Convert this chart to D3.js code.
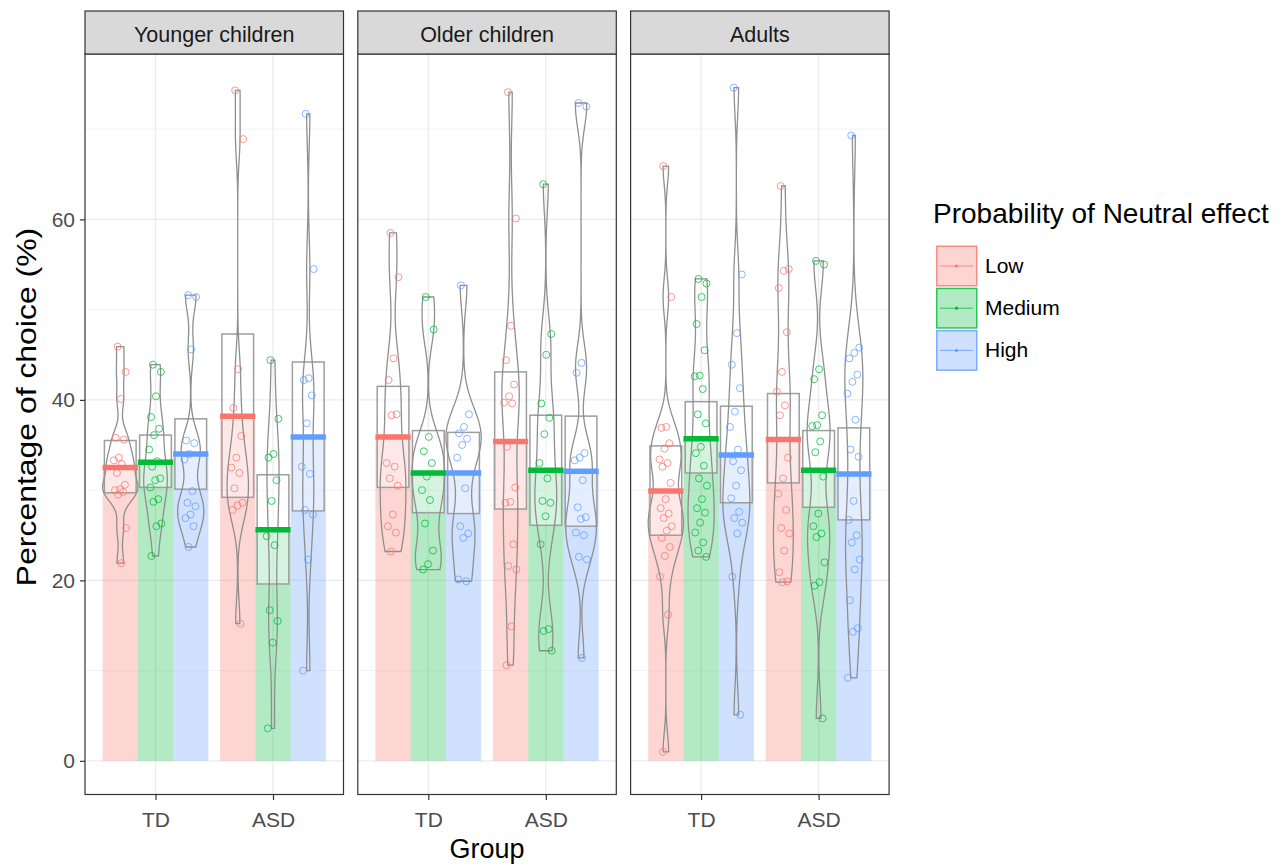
<!DOCTYPE html>
<html>
<head>
<meta charset="utf-8">
<script src="https://cdn.jsdelivr.net/npm/d3@7"></script>
<style>
  body { margin: 0; background: #fff; }
  text { font-family: "Liberation Sans", Arial, sans-serif; }
</style>
</head>
<body>
<div id="chart"></div>
<script>
// data
const panels = ["Younger children", "Older children", "Adults"];
const groups = ["TD", "ASD"];
const levels = ["Low", "Medium", "High"];
const colors = ["#F8766D", "#00BA38", "#619CFF"];
const yTicks = [0, 20, 40, 60];

// per panel, order: TD Low, TD Medium, TD High, ASD Low, ASD Medium, ASD High
const meanYounger = [32.5, 33.1, 34.0, 38.2, 25.6, 35.9];
const ciLowYounger = [29.7, 30.3, 30.1, 29.2, 19.6, 27.7];
const ciHighYounger = [35.5, 36.1, 37.9, 47.3, 31.7, 44.2];
const pointsYounger = [
  [45.9, 43.1, 40.1, 35.8, 35.6, 33.6, 33.3, 32.9, 31.9, 30.6, 30.1, 30.0, 29.8, 29.5, 25.8, 21.9],
  [43.9, 43.1, 40.4, 38.1, 36.8, 36.1, 34.5, 33.2, 32.6, 31.3, 31.1, 30.3, 29.0, 28.7, 26.3, 26.0, 22.7],
  [51.6, 51.4, 45.6, 35.5, 35.2, 34.0, 33.4, 29.9, 28.6, 28.2, 27.3, 26.9, 26.0, 23.7],
  [74.3, 68.9, 43.4, 39.1, 36.0, 33.6, 32.5, 31.9, 30.2, 28.6, 28.3, 27.8, 15.2],
  [44.4, 37.9, 34.0, 33.6, 31.1, 28.8, 24.9, 23.9, 16.7, 15.5, 13.1, 3.6],
  [71.7, 54.5, 42.4, 42.2, 40.5, 37.4, 32.6, 31.8, 27.8, 27.3, 22.3, 10.0]
];

const meanOlder = [35.9, 31.9, 31.9, 35.4, 32.2, 32.1];
const ciLowOlder = [30.3, 27.5, 27.4, 27.9, 26.1, 26.0];
const ciHighOlder = [41.5, 36.6, 36.4, 43.1, 38.3, 38.2];
const pointsOlder = [
  [58.5, 53.6, 44.6, 42.2, 38.4, 38.3, 33.0, 32.6, 31.3, 30.5, 27.3, 26.0, 25.3, 23.2],
  [51.4, 47.8, 35.9, 34.3, 33.0, 31.5, 30.0, 28.9, 26.3, 23.3, 21.8, 21.2],
  [52.7, 38.4, 37.0, 36.3, 35.7, 35.0, 33.6, 30.2, 26.0, 25.2, 24.7, 20.1, 19.9],
  [74.1, 60.1, 48.2, 44.4, 41.7, 40.4, 39.7, 39.6, 34.8, 30.3, 28.7, 28.6, 24.0, 21.6, 21.2, 14.9, 10.6],
  [63.9, 47.3, 45.0, 39.6, 38.0, 36.2, 33.0, 31.3, 28.8, 28.6, 27.1, 24.0, 14.6, 14.4, 12.2],
  [72.9, 72.5, 44.1, 43.0, 34.1, 33.6, 33.3, 31.1, 28.1, 27.0, 26.8, 25.3, 25.0, 22.6, 22.3, 11.4]
];

const meanAdults = [29.9, 35.7, 33.9, 35.6, 32.2, 31.8];
const ciLowAdults = [25.0, 31.9, 28.6, 30.8, 28.1, 26.7];
const ciHighAdults = [34.9, 39.8, 39.3, 40.7, 36.6, 36.9];
const pointsAdults = [
  [65.9, 51.4, 37.0, 36.9, 35.2, 34.6, 33.4, 33.0, 32.6, 30.8, 29.0, 28.0, 27.4, 26.9, 26.0, 25.5, 24.7, 23.7, 22.7, 20.4, 16.2, 1.0],
  [53.4, 52.9, 51.4, 48.4, 45.5, 42.7, 42.6, 41.2, 38.4, 37.4, 34.8, 34.1, 32.7, 31.3, 30.5, 29.0, 28.0, 27.5, 26.4, 25.3, 24.2, 23.3, 22.6],
  [74.6, 53.9, 47.4, 43.9, 41.3, 38.7, 37.0, 34.5, 33.2, 32.2, 30.5, 29.1, 27.6, 26.9, 26.4, 25.2, 20.4, 5.1],
  [63.7, 54.5, 54.3, 52.4, 47.5, 43.1, 40.9, 39.4, 38.3, 33.6, 31.3, 29.6, 27.8, 25.8, 25.2, 23.3, 20.9, 19.9, 19.8],
  [55.4, 55.0, 43.4, 42.3, 38.3, 37.2, 37.1, 35.4, 34.2, 31.5, 27.4, 26.0, 25.2, 24.8, 22.0, 19.8, 19.4, 4.7],
  [69.3, 45.8, 45.2, 44.6, 42.8, 42.0, 40.7, 37.8, 34.5, 33.7, 28.8, 26.7, 25.0, 24.2, 22.3, 21.2, 17.8, 14.7, 14.3, 9.2]
];

const panelData = [
  { mean: meanYounger, lo: ciLowYounger, hi: ciHighYounger, pts: pointsYounger },
  { mean: meanOlder, lo: ciLowOlder, hi: ciHighOlder, pts: pointsOlder },
  { mean: meanAdults, lo: ciLowAdults, hi: ciHighAdults, pts: pointsAdults }
];

// set up
const width = 1287, height = 868;
const panelTop = 54, panelBottom = 794.5;
const stripTop = 11;
const panelW = 258.5, panelGap = 14.3, firstLeft = 85;
const grey20 = '#333333';
const bwAdjust = 0.6; // narrower kernel gives the jagged violins

const svg = d3.select('#chart').append('svg')
  .attr('width', width)
  .attr('height', height);

// y scale shared by the panels, with ggplot-like 5% expansion
const maxV = d3.max(panelData, p => d3.max(p.pts, a => d3.max(a)));
const y = d3.scaleLinear()
  .domain([0 - 0.05 * maxV, maxV * 1.05])
  .range([panelBottom, panelTop]);

const x = d3.scalePoint().domain(groups).range([0, panelW]).padding(0.6);
const step = x.step();
const dodge = d3.scaleBand().domain(levels).range([-0.45 * step, 0.45 * step]);
const bw = dodge.bandwidth();
const color = d3.scaleOrdinal().domain(levels).range(colors);

// kernel density, bandwidth as R's bw.nrd0 (times bwAdjust)
function kde(values) {
  const v = values.slice().sort(d3.ascending);
  const n = v.length;
  const sd = d3.deviation(v);
  const iqr = (d3.quantile(v, 0.75) - d3.quantile(v, 0.25)) / 1.34;
  const lo = Math.min(sd, iqr) || sd || 1;
  const h = bwAdjust * 0.9 * lo * Math.pow(n, -0.2);
  const ext = d3.extent(v);
  const out = [];
  for (let k = 0; k < 512; k++) {
    const t = ext[0] + (ext[1] - ext[0]) * k / 511;
    let s = 0;
    for (const xi of v) {
      const z = (t - xi) / h;
      s += Math.exp(-0.5 * z * z);
    }
    out.push({ v: t, d: s / (n * h * Math.sqrt(2 * Math.PI)) });
  }
  return out;
}

panels.forEach((name, pi) => {
  const left = firstLeft + pi * (panelW + panelGap);
  const g = svg.append('g').attr('transform', `translate(${left},0)`);
  const pd = panelData[pi];

  // grid
  g.selectAll('.minor').data([10, 30, 50, 70]).join('line')
    .attr('x1', 0).attr('x2', panelW)
    .attr('y1', d => y(d)).attr('y2', d => y(d))
    .attr('stroke', '#ebebeb').attr('stroke-width', 0.7);
  g.selectAll('.major').data(yTicks).join('line')
    .attr('x1', 0).attr('x2', panelW)
    .attr('y1', d => y(d)).attr('y2', d => y(d))
    .attr('stroke', '#ebebeb').attr('stroke-width', 1.3);
  g.selectAll('.vmajor').data(groups).join('line')
    .attr('x1', d => x(d)).attr('x2', d => x(d))
    .attr('y1', panelTop).attr('y2', panelBottom)
    .attr('stroke', '#ebebeb').attr('stroke-width', 1.3);

  // rows for this panel
  const rows = [];
  groups.forEach((gr, gi) => levels.forEach((lv, li) => {
    const k = gi * 3 + li;
    rows.push({ group: gr, level: lv, mean: pd.mean[k], lo: pd.lo[k], hi: pd.hi[k],
      pts: pd.pts[k], cx: x(gr) + dodge(lv) + bw / 2, dens: kde(pd.pts[k]) });
  }));
  const maxDens = d3.max(rows, r => d3.max(r.dens, d => d.d));

  // bars
  g.selectAll('.bar').data(rows).join('rect')
    .attr('x', d => d.cx - bw / 2)
    .attr('width', bw)
    .attr('y', d => y(d.mean))
    .attr('height', d => y(0) - y(d.mean))
    .attr('fill', d => color(d.level))
    .attr('fill-opacity', 0.3);

  // confidence boxes
  g.selectAll('.ci').data(rows).join('rect')
    .attr('x', d => d.cx - bw * 0.45)
    .attr('width', bw * 0.9)
    .attr('y', d => y(d.hi))
    .attr('height', d => y(d.lo) - y(d.hi))
    .attr('fill', 'white').attr('fill-opacity', 0.45)
    .attr('stroke', '#9e9e9e').attr('stroke-width', 1.5);

  // violins
  g.selectAll('.violin').data(rows).join('path')
    .attr('d', r => d3.area()
      .y(d => y(d.v))
      .x0(d => r.cx - d.d / maxDens * bw / 2)
      .x1(d => r.cx + d.d / maxDens * bw / 2)(r.dens))
    .attr('fill', 'none')
    .attr('stroke', '#8f8f8f')
    .attr('stroke-width', 1.3);

  // points, spread sideways a little
  rows.forEach(r => {
    g.append('g').selectAll('circle').data(r.pts).join('circle')
      .attr('cx', (d, i) => r.cx + (((i * 0.6180339 + 0.3) % 1) - 0.5) * 0.11 * step)
      .attr('cy', d => y(d))
      .attr('r', 3.5)
      .attr('fill', 'none')
      .attr('stroke', color(r.level))
      .attr('stroke-opacity', 0.75)
      .attr('stroke-width', 1);
  });

  // mean lines
  g.selectAll('.mean').data(rows).join('line')
    .attr('x1', d => d.cx - bw / 2).attr('x2', d => d.cx + bw / 2)
    .attr('y1', d => y(d.mean)).attr('y2', d => y(d.mean))
    .attr('stroke', d => color(d.level))
    .attr('stroke-width', 5.5);

  // panel border
  g.append('rect')
    .attr('x', 0).attr('y', panelTop)
    .attr('width', panelW).attr('height', panelBottom - panelTop)
    .attr('fill', 'none').attr('stroke', grey20).attr('stroke-width', 1.2);

  // strip
  g.append('rect')
    .attr('x', 0).attr('y', stripTop)
    .attr('width', panelW).attr('height', panelTop - stripTop)
    .attr('fill', '#d9d9d9').attr('stroke', grey20).attr('stroke-width', 1.2);
  g.append('text')
    .attr('x', panelW / 2).attr('y', 42)
    .attr('text-anchor', 'middle')
    .attr('font-size', '21.5px').attr('fill', '#1a1a1a')
    .text(name);

  // x axis
  const xAxis = g.append('g')
    .attr('transform', `translate(0,${panelBottom})`)
    .call(d3.axisBottom(x).tickSize(5.5).tickPadding(12));
  xAxis.select('.domain').remove();
  xAxis.selectAll('line').attr('stroke', grey20).attr('stroke-width', 1.2);
  xAxis.selectAll('text').attr('font-size', '21px').attr('fill', '#4d4d4d')
    .attr('font-family', '"Liberation Sans", Arial, sans-serif');
});

// y axis
const yAxis = svg.append('g')
  .attr('transform', `translate(${firstLeft},0)`)
  .call(d3.axisLeft(y).tickValues(yTicks).tickSize(5).tickPadding(5));
yAxis.select('.domain').remove();
yAxis.selectAll('line').attr('stroke', grey20).attr('stroke-width', 1.2);
yAxis.selectAll('text').attr('font-size', '21px').attr('fill', '#4d4d4d')
  .attr('font-family', '"Liberation Sans", Arial, sans-serif');

// axis titles
svg.append('text')
  .attr('transform', `translate(36,407) rotate(-90) scale(1.14,1)`)
  .attr('text-anchor', 'middle')
  .attr('font-size', '28px').attr('fill', '#000')
  .text('Percentage of choice (%)');

svg.append('text')
  .attr('x', firstLeft + (3 * panelW + 2 * panelGap) / 2).attr('y', 858)
  .attr('text-anchor', 'middle')
  .attr('font-size', '27px').attr('fill', '#000')
  .text('Group');

// legend
const legend = svg.append('g').attr('transform', 'translate(933,0)');
legend.append('text')
  .attr('x', 0).attr('y', 223)
  .attr('font-size', '28px').attr('fill', '#000')
  .text('Probability of Neutral effect');

const keys = legend.selectAll('.key').data(levels).join('g')
  .attr('transform', (d, i) => `translate(3,${245.5 + i * 42.2})`);
keys.append('rect')
  .attr('x', 0.75).attr('y', 0.75).attr('width', 40).attr('height', 39.5)
  .attr('fill', d => color(d)).attr('fill-opacity', 0.3)
  .attr('stroke', d => color(d)).attr('stroke-width', 1.5).attr('stroke-opacity', 0.8);
keys.append('line')
  .attr('x1', 4).attr('x2', 37).attr('y1', 20.5).attr('y2', 20.5)
  .attr('stroke', d => color(d)).attr('stroke-width', 1).attr('stroke-opacity', 0.8);
keys.append('circle')
  .attr('cx', 20.5).attr('cy', 20.5).attr('r', 1.6)
  .attr('fill', d => color(d));
keys.append('text')
  .attr('x', 49).attr('y', 27.5)
  .attr('font-size', '21px').attr('fill', '#000')
  .text(d => d);
</script>
</body>
</html>
